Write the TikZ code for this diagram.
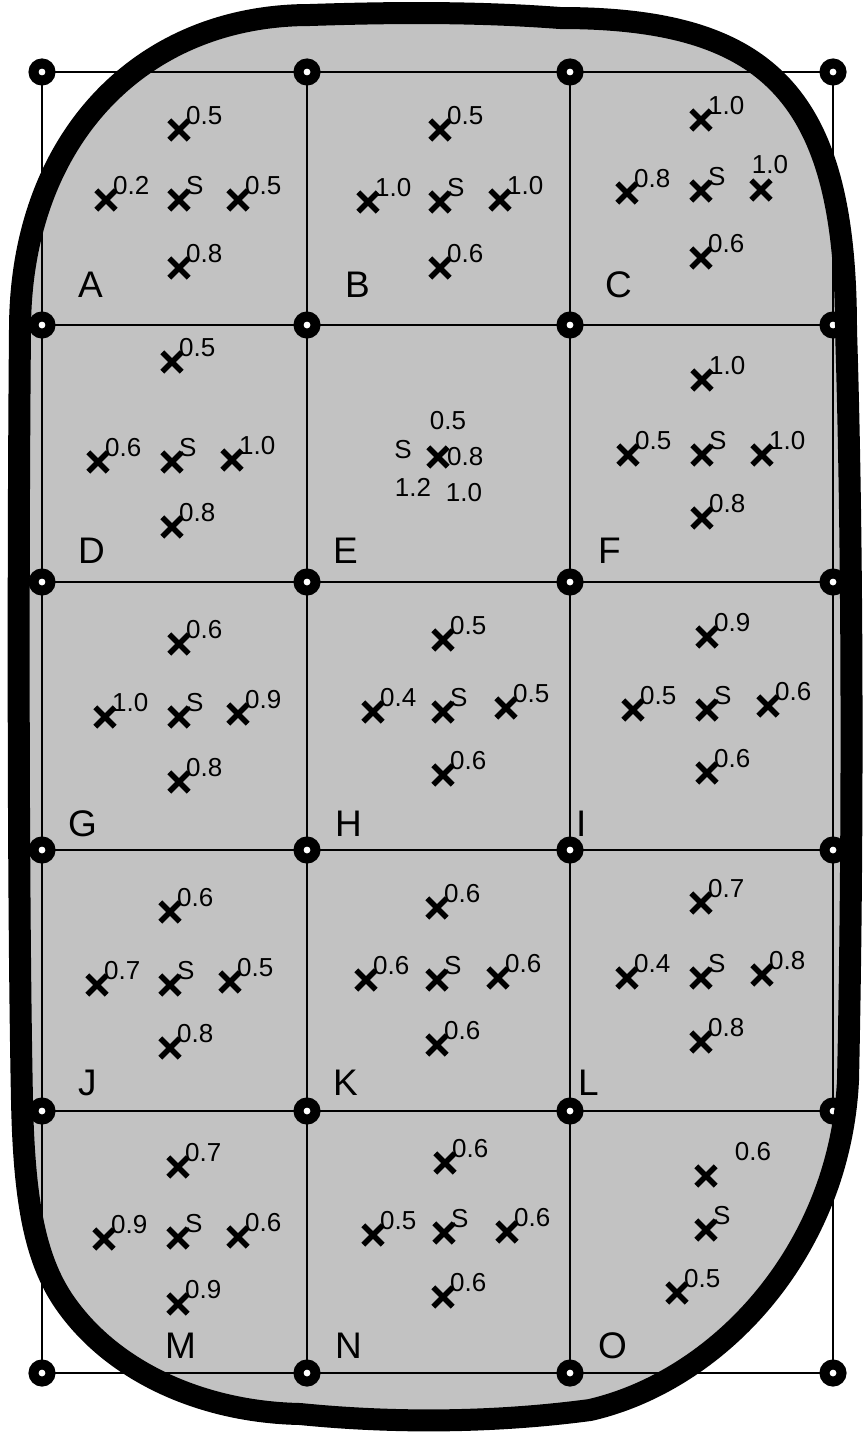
\documentclass[tikz,border=0pt]{standalone}
\usepackage{fontspec}
\setmainfont{Liberation Sans}
\usetikzlibrary{shapes.misc}
\newcommand\myx[4]{\node[xmark] (#1) at (#2,#3) {}; \node[sup] (#1t) at ([shift={(7,-6)}]#1.center) {#4};}
\newcommand\mylet[4]{\node[letter] (#1) at (#2,#3) {#4};}
\newcommand\blobpath{(20,330) .. controls (20,140) and (140,15) .. (310,15)
  .. controls (400,12) and (480,12) .. (560,18)
  .. controls (770,18) and (846,96) .. (846,330)
  .. controls (853,550) and (853,850) .. (848,1080)
  .. controls (840,1250) and (720,1380) .. (590,1410)
  .. controls (500,1422) and (400,1424) .. (300,1414)
  .. controls (200,1412) and (110,1370) .. (63,1300)
  .. controls (35,1258) and (24,1200) .. (22,1100)
  .. controls (18,900) and (18,550) .. (20,330) -- cycle}
\begin{document}
\begin{tikzpicture}[x=1pt,y=-1pt,
  dot/.style={circle,draw=black,fill=white,line width=10pt,minimum size=17pt,inner sep=0pt},
  xmark/.style={cross out,draw=black,line width=5.4pt,minimum size=14pt,inner sep=0pt},
  sup/.style={anchor=base west,inner sep=0pt,font=\fontsize{26}{26}\selectfont},
  txt/.style={inner sep=0pt,font=\fontsize{26}{26}\selectfont},
  letter/.style={anchor=base west,inner sep=0pt,font=\fontsize{37}{37}\selectfont},
  grid/.style={line width=1.5pt,draw=black},
  blobfill/.style={fill=black!24},
  blobline/.style={draw=black,line width=22pt}]
\useasboundingbox (0,0) rectangle (862,1437);
\fill[white] (0,0) rectangle (862,1437);
% shaded region
\path[blobfill] \blobpath;
% grid points
\foreach \c/\xx in {1/42,2/307,3/570,4/833}{
  \foreach \r/\yy in {1/72,2/325,3/582,4/850,5/1111,6/1373}{
    \coordinate (q\r\c) at (\xx,\yy);
  }
}
% grid lines
\foreach \r in {1,...,6}{ \draw[grid] (q\r1) -- (q\r4); }
\foreach \c in {1,...,4}{ \draw[grid] (q1\c) -- (q6\c); }
\foreach \r in {1,...,6}{ \foreach \c in {1,...,4}{ \node[dot] (p\r\c) at (q\r\c) {}; } }
% cell A
\myx{A1}{179}{130}{0.5}\myx{A2}{106}{200}{0.2}\myx{A3}{179}{200}{S}\myx{A4}{238}{200}{0.5}\myx{A5}{179}{268}{0.8}
\mylet{LA}{78}{297}{A}
% cell B
\myx{B1}{440}{130}{0.5}\myx{B2}{368}{202}{1.0}\myx{B3}{440}{202}{S}\myx{B4}{500}{200}{1.0}\myx{B5}{440}{268}{0.6}
\mylet{LB}{345}{297}{B}
% cell C
\myx{C1}{701}{120}{1.0}\myx{C2}{627}{193}{0.8}\myx{C3}{701}{191}{S}\myx{C5}{701}{258}{0.6}
\node[xmark] (C4) at (761,190) {};
\node[txt] (C4t) at (770,165) {1.0};
\mylet{LC}{605}{297}{C}
% cell D
\myx{D1}{172}{362}{0.5}\myx{D2}{98}{462}{0.6}\myx{D3}{172}{462}{S}\myx{D4}{232}{460}{1.0}\myx{D5}{172}{527}{0.8}
\mylet{LD}{78}{563}{D}
% cell E
\node[xmark] (E1) at (438,457) {};
\node[txt] (E1a) at (448,421) {0.5};
\node[txt] (E1b) at (403,450) {S};
\node[txt,anchor=west] (E1c) at (447,457) {0.8};
\node[txt] (E1d) at (413,487) {1.2};
\node[txt] (E1e) at (464,493) {1.0};
\mylet{LE}{333}{563}{E}
% cell F
\myx{F1}{702}{380}{1.0}\myx{F2}{628}{455}{0.5}\myx{F3}{702}{455}{S}\myx{F4}{762}{455}{1.0}\myx{F5}{702}{518}{0.8}
\mylet{LF}{598}{563}{F}
% cell G
\myx{G1}{179}{644}{0.6}\myx{G2}{105}{717}{1.0}\myx{G3}{179}{717}{S}\myx{G4}{238}{714}{0.9}\myx{G5}{179}{782}{0.8}
\mylet{LG}{68}{836}{G}
% cell H
\myx{H1}{443}{640}{0.5}\myx{H2}{373}{712}{0.4}\myx{H3}{443}{712}{S}\myx{H4}{506}{708}{0.5}\myx{H5}{443}{775}{0.6}
\mylet{LH}{335}{836}{H}
% cell I
\myx{I1}{707}{637}{0.9}\myx{I2}{633}{710}{0.5}\myx{I3}{707}{710}{S}\myx{I4}{768}{706}{0.6}\myx{I5}{707}{773}{0.6}
\mylet{LI}{576}{836}{I}
% cell J
\myx{J1}{170}{912}{0.6}\myx{J2}{97}{985}{0.7}\myx{J3}{170}{985}{S}\myx{J4}{230}{982}{0.5}\myx{J5}{170}{1048}{0.8}
\mylet{LJ}{78}{1095}{J}
% cell K
\myx{K1}{437}{908}{0.6}\myx{K2}{366}{980}{0.6}\myx{K3}{437}{980}{S}\myx{K4}{498}{978}{0.6}\myx{K5}{437}{1045}{0.6}
\mylet{LK}{333}{1095}{K}
% cell L
\myx{L1}{701}{903}{0.7}\myx{L2}{627}{978}{0.4}\myx{L3}{701}{978}{S}\myx{L4}{762}{975}{0.8}\myx{L5}{701}{1042}{0.8}
\mylet{LL}{578}{1095}{L}
% cell M
\myx{M1}{178}{1167}{0.7}\myx{M2}{104}{1239}{0.9}\myx{M3}{178}{1238}{S}\myx{M4}{238}{1237}{0.6}\myx{M5}{178}{1304}{0.9}
\mylet{LM}{165}{1358}{M}
% cell N
\myx{N1}{445}{1163}{0.6}\myx{N2}{373}{1235}{0.5}\myx{N3}{444}{1233}{S}\myx{N4}{507}{1232}{0.6}\myx{N5}{443}{1297}{0.6}
\mylet{LN}{335}{1358}{N}
% cell O
\node[xmark] (O1) at (706,1176) {};
\node[txt] (O1t) at (753,1152) {0.6};
\myx{O3}{706}{1230}{S}\myx{O5}{677}{1293}{0.5}
\mylet{LO}{598}{1358}{O}
% thick outline
\path[blobline] \blobpath;
\end{tikzpicture}
\end{document}
